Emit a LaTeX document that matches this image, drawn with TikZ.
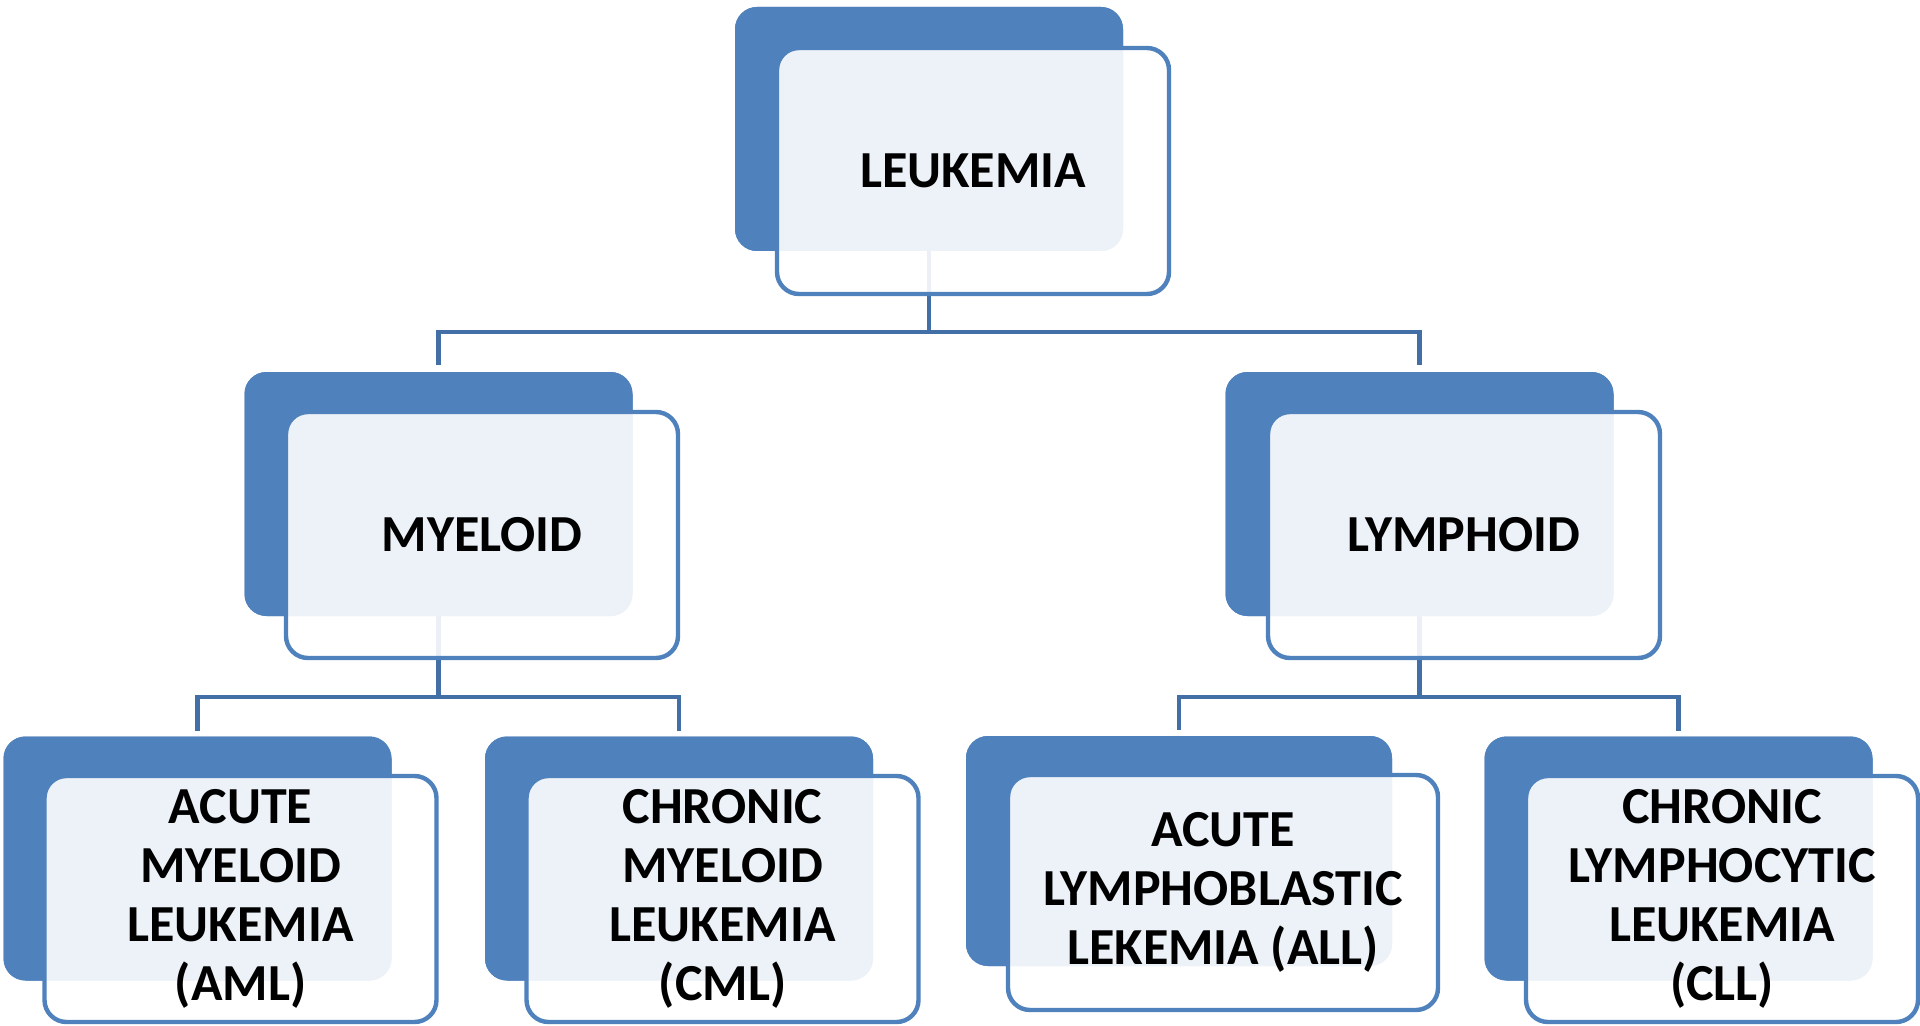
\documentclass[tikz,border=0pt]{standalone}
\usepackage{fontspec}
\setmainfont{Carlito}
\definecolor{acc}{HTML}{4F81BD}
\definecolor{conncol}{HTML}{416FA6}
\begin{document}
\begin{tikzpicture}[x=0.5pt,y=-0.5pt,
  back/.style={draw=none,fill=acc,rounded corners=11pt,inner sep=0pt,outer sep=0pt,
    minimum width=194pt,minimum height=122pt},
  front/.style={draw=acc,line width=2.2pt,fill=white,fill opacity=0.9,text opacity=1,
    rounded corners=11pt,inner sep=0pt,outer sep=0pt,
    minimum width=196pt,minimum height=123pt,align=center,
    font=\fontsize{26pt}{29.5pt}\selectfont\bfseries},
  conn/.style={draw=conncol,line width=2.4pt}]
\useasboundingbox (0,0) rectangle (1920,1026);
\coordinate (h1) at (0,332);
\coordinate (h2) at (0,697);
% back boxes (positions)
\path (929,129) node[back] (top) {};
\path (438.5,494) node[back] (mye) {};
\path (1419.5,494) node[back] (lym) {};
\path (197.5,858.5) node[back] (aml) {};
\path (679,858.5) node[back] (cml) {};
\path (1179,851) node[back,minimum width=213pt,minimum height=115pt] (all) {};
\path (1678.5,858.5) node[back] (cll) {};
% connectors
\draw[conn] (top.south) -- (top.south |- h1);
\draw[conn] ([yshift=3.5pt]mye.north) |- (top.south |- h1) -| ([yshift=3.5pt]lym.north);
\draw[conn] (mye.south) -- (mye.south |- h2);
\draw[conn] ([yshift=3pt]aml.north) |- (mye.south |- h2) -| ([yshift=3pt]cml.north);
\draw[conn] (lym.south) -- (lym.south |- h2);
\draw[conn] ([yshift=3pt]all.north) |- (lym.south |- h2) -| ([yshift=3pt]cll.north);
% redraw back boxes over connectors
\foreach \n in {top,mye,lym,aml,cml,cll}{
  \fill[acc,rounded corners=11pt] (\n.north west) rectangle (\n.south east);
}
\fill[acc,rounded corners=11pt] (all.north west) rectangle (all.south east);
% front boxes
\node[front] (ftop) at (973,171) {LEUKEMIA};
\node[front] (fmye) at (482,535) {MYELOID};
\node[front] (flym) at (1464,535) {LYMPHOID};
\node[front] (faml) at (240.5,899) {ACUTE\\MYELOID\\LEUKEMIA\\(AML)};
\node[front] (fcml) at (722.5,899) {CHRONIC\\MYELOID\\LEUKEMIA\\(CML)};
\node[front,minimum width=215pt,minimum height=117.5pt] (fall) at (1223,892.5) {ACUTE\\LYMPHOBLASTIC\\LEKEMIA (ALL)};
\node[front] (fcll) at (1722,899) {CHRONIC\\LYMPHOCYTIC\\LEUKEMIA\\(CLL)};
\end{tikzpicture}
\end{document}
